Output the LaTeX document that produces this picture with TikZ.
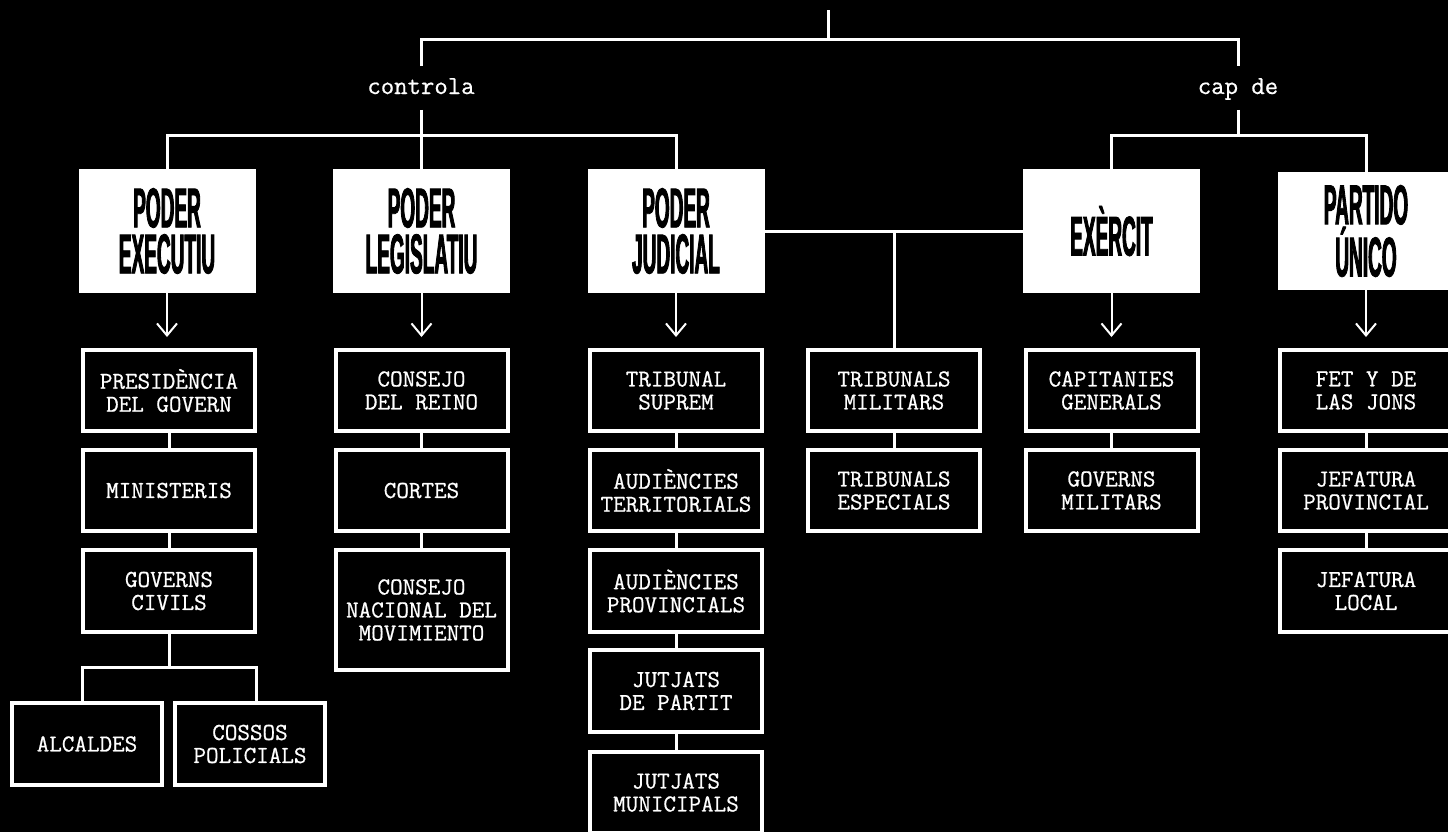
\documentclass[tikz,border=0pt]{standalone}
\usepackage{fontspec}
\usetikzlibrary{arrows.meta}
\newfontfamily\titlefont{Liberation Sans Bold}[FakeStretch=0.34,FakeBold=1.5]
\newfontfamily\twfont{Latin Modern Mono}[FakeBold=0.7]
\tikzset{
  topbox/.style={fill=white, text=black, inner sep=0pt, minimum width=88.5pt, minimum height=62pt,
    align=center, font=\titlefont\fontsize{28pt}{23pt}\selectfont},
  subbox/.style={draw=white, line width=2pt, fill=black, text=white, inner sep=0pt,
    minimum width=86pt, minimum height=40.5pt, align=center,
    font=\twfont\fontsize{12.2pt}{11.5pt}\selectfont},
  lbl/.style={text=white, inner sep=0pt, minimum height=21.5pt, text height=6pt, text depth=0pt,
    font=\twfont\fontsize{13pt}{13pt}\selectfont},
  link/.style={draw=white, line width=1.5pt},
  arr/.style={draw=white, line width=1pt, shorten >=5.5pt,
    -{Straight Barb[length=6pt,width=10pt,line width=1pt]}}
}
\begin{document}
\begin{tikzpicture}[x=0.5pt,y=-0.5pt]
\fill[black] (0,0) rectangle (1448,832);
\clip (0,0) rectangle (1448,832);

% labels
\node[lbl] (ctl) at (421,88) {controla};
\node[lbl] (cap) at (1238,88) {cap de};

% top boxes
\node[topbox] (exec) at (167,231) {PODER\\EXECUTIU};
\node[topbox] (leg) at (421.5,231) {PODER\\LEGISLATIU};
\node[topbox] (jud) at (676,231) {PODER\\JUDICIAL};
\node[topbox] (exe) at (1111.5,231) {EXÈRCIT};
\node[topbox, minimum height=59pt] (par) at (1366,231) {PARTIDO\\ÚNICO};

% sub boxes
\node[subbox] (pres) at (169,390.5) {PRESIDÈNCIA\\DEL GOVERN};
\node[subbox] (mini) at (169,490.5) {MINISTERIS};
\node[subbox, minimum height=41pt] (gciv) at (169,591) {GOVERNS\\CIVILS};
\node[subbox, minimum width=75pt, minimum height=41pt] (alc) at (87,744) {ALCALDES};
\node[subbox, minimum width=75pt, minimum height=41pt] (cos) at (250,744) {COSSOS\\POLICIALS};

\node[subbox] (crei) at (421.5,390.5) {CONSEJO\\DEL REINO};
\node[subbox] (cort) at (421.5,490.5) {CORTES};
\node[subbox, minimum height=60pt] (cnac) at (421.5,610) {CONSEJO\\NACIONAL DEL\\MOVIMIENTO};

\node[subbox] (tsup) at (676,390.5) {TRIBUNAL\\SUPREM};
\node[subbox] (aterr) at (676,490.5) {AUDIÈNCIES\\TERRITORIALS};
\node[subbox, minimum height=41pt] (aprov) at (676,591) {AUDIÈNCIES\\PROVINCIALS};
\node[subbox, minimum height=41pt] (jpart) at (676,691) {JUTJATS\\DE PARTIT};
\node[subbox] (jmun) at (676,792.5) {JUTJATS\\MUNICIPALS};

\node[subbox] (tmil) at (894,390.5) {TRIBUNALS\\MILITARS};
\node[subbox] (tesp) at (894,490.5) {TRIBUNALS\\ESPECIALS};

\node[subbox] (capg) at (1111.5,390.5) {CAPITANIES\\GENERALS};
\node[subbox] (gmil) at (1111.5,490.5) {GOVERNS\\MILITARS};

\node[subbox] (fet) at (1366,390.5) {FET Y DE\\LAS JONS};
\node[subbox] (jprov) at (1366,490.5) {JEFATURA\\PROVINCIAL};
\node[subbox, minimum height=41pt] (jloc) at (1366,591) {JEFATURA\\LOCAL};

% top structure
\coordinate (root) at (828,10);
\coordinate (split) at (828,39);
\draw[link] (root) -- (split);
\draw[link] (ctl.north) |- (split) -| (cap.north);

\coordinate (cj) at (421,135);
\draw[link] (exec.north) |- (cj) -| (jud.north);
\draw[link] (ctl.south) -- (ctl.south |- leg.north);

\coordinate (kj) at (1238,135);
\draw[link] (exe.north) |- (kj) -| (par.north);
\draw[link] (cap.south) -- (kj);

\draw[link] (jud.east) -- (exe.west);
\draw[link] (tmil.north) -- (tmil.north |- jud.east);

% arrows
\foreach \a/\b in {exec/pres, leg/crei, jud/tsup, exe/capg, par/fet}
  \draw[arr] (\a.south) -- (\a.south |- \b.north);

% chains
\draw[link] (pres) -- (mini);
\draw[link] (mini) -- (gciv);
\coordinate (gs) at (169,667);
\draw[link] (gciv) -- (gs);
\draw[link] ([xshift=-2.5pt]alc.north) |- (gs) -| ([xshift=3pt]cos.north);

\draw[link] (crei) -- (cort);
\draw[link] (cort) -- (cnac);

\draw[link] (tsup) -- (aterr);
\draw[link] (aterr) -- (aprov);
\draw[link] (aprov) -- (jpart);
\draw[link] (jpart) -- (jmun);

\draw[link] (tmil) -- (tesp);
\draw[link] (capg) -- (gmil);
\draw[link] (fet) -- (jprov);
\draw[link] (jprov) -- (jloc);
\end{tikzpicture}
\end{document}
